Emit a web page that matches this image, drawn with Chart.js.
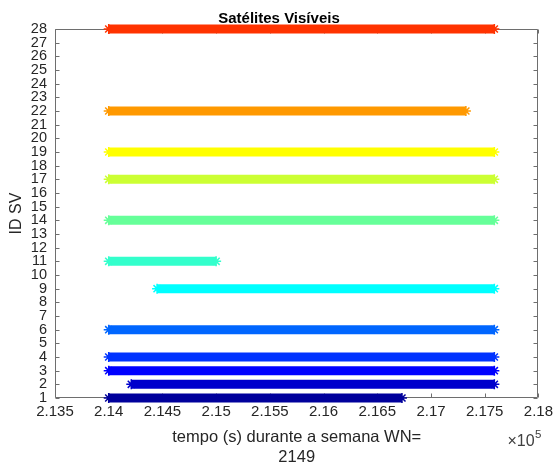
<!DOCTYPE html>
<html>
<head>
<meta charset="utf-8">
<script src="https://cdn.jsdelivr.net/npm/chart.js@4.4.1/dist/chart.umd.min.js"></script>
<style>
  html, body { margin: 0; padding: 0; background: #ffffff; }
  #wrap { width: 558px; height: 465px; }
</style>
</head>
<body>
<div id="wrap"><canvas id="c" width="558" height="465"></canvas></div>
<script>
// Visible satellites: PRN id and first/last epoch seen (seconds of GPS week)
const svIds  = [1, 2, 3, 4, 6, 9, 11, 14, 17, 19, 22, 28];
const tStart = [214000, 214210, 214000, 214000, 214000, 214450, 214000, 214000, 214000, 214000, 214000, 214000];
const tEnd   = [216730, 217590, 217590, 217590, 217590, 217590, 215000, 217590, 217590, 217590, 217325, 217590];
const svColors = ['#00009c', '#0000cc', '#0000ff', '#0033ff', '#0066ff', '#00ffff',
                  '#33ffcc', '#66ff99', '#ccff33', '#ffff00', '#ff9900', '#ff3300'];

const xMin = 213500, xMax = 218000, xStep = 500;
const yMin = 1, yMax = 28;
const weekNumber = 2149;

const FONT = '"Liberation Sans", Arial, Helvetica, sans-serif';
const AXIS_GRAY = '#262626';

const datasets = svIds.map((id, i) => ({
  label: 'SV ' + id,
  data: [{ x: tStart[i], y: id }, { x: tEnd[i], y: id }],
  showLine: true,
  borderColor: svColors[i],
  backgroundColor: svColors[i],
  borderWidth: 9,
  borderCapStyle: 'butt',
  pointStyle: 'star',
  pointRadius: 5,
  pointBorderWidth: 1.5,
  pointBorderColor: svColors[i],
  pointHoverRadius: 5,
  clip: false
}));

// MATLAB-style box with inward tick marks on all four sides
const boxPlugin = {
  id: 'boxTicks',
  beforeDatasetsDraw(chart) {
    const { ctx, chartArea: a, scales } = chart;
    const L = Math.round(a.left) + 0.5, R = Math.round(a.right) - 0.5;
    const T = Math.round(a.top) + 0.5, B = Math.round(a.bottom) - 0.5;
    const len = 4;
    ctx.save();
    ctx.strokeStyle = '#6e6e6e';
    ctx.lineWidth = 1;
    ctx.beginPath();
    ctx.rect(L, T, R - L, B - T);
    scales.x.ticks.forEach(t => {
      const px = Math.round(scales.x.getPixelForValue(t.value)) + 0.5;
      ctx.moveTo(px, B); ctx.lineTo(px, B - len);
      ctx.moveTo(px, T); ctx.lineTo(px, T + len);
    });
    scales.y.ticks.forEach(t => {
      const py = Math.round(scales.y.getPixelForValue(t.value)) + 0.5;
      ctx.moveTo(L, py); ctx.lineTo(L + len, py);
      ctx.moveTo(R, py); ctx.lineTo(R - len, py);
    });
    ctx.stroke();
    ctx.restore();
  },
  afterDraw(chart) {
    // x10^5 exponent label below the right end of the x axis
    const { ctx, chartArea: a } = chart;
    ctx.save();
    ctx.fillStyle = '#404040';
    ctx.textBaseline = 'alphabetic';
    ctx.textAlign = 'left';
    ctx.font = '16px ' + FONT;
    const bx = a.right - 31, by = a.bottom + 48;
    ctx.fillText('\u00d710', bx, by);
    const w = ctx.measureText('\u00d710').width;
    ctx.font = '11.5px ' + FONT;
    ctx.fillText('5', bx + w + 0.5, by - 8);
    ctx.restore();
  }
};

const fmtTick = v => {
  let s = (v / 1e5).toFixed(3);
  s = s.replace(/0+$/, '').replace(/\.$/, '');
  return s;
};

new Chart(document.getElementById('c'), {
  type: 'scatter',
  data: { datasets },
  plugins: [boxPlugin],
  options: {
    responsive: false,
    animation: false,
    devicePixelRatio: 1,
    events: [],
    layout: { padding: 0 },
    plugins: {
      legend: { display: false },
      tooltip: { enabled: false },
      title: {
        display: true,
        text: 'Satélites Visíveis',
        color: '#000000',
        font: { family: FONT, size: 15, weight: 'bold', lineHeight: 1.2 },
        padding: { top: 10, bottom: 1 }
      }
    },
    scales: {
      x: {
        type: 'linear',
        min: xMin, max: xMax,
        grid: { display: false, drawTicks: false },
        border: { display: false },
        ticks: {
          stepSize: xStep,
          autoSkip: false,
          maxRotation: 0,
          padding: 5,
          color: AXIS_GRAY,
          font: { family: FONT, size: 15 },
          callback: v => fmtTick(v)
        },
        title: {
          display: true,
          text: ['tempo (s) durante a semana WN=', String(weekNumber)],
          color: AXIS_GRAY,
          font: { family: FONT, size: 16.5, lineHeight: 1.22 },
          padding: { top: 11, bottom: -3 }
        },
        afterFit(scale) { scale.height = 67; }
      },
      y: {
        type: 'linear',
        min: yMin, max: yMax,
        grid: { display: false, drawTicks: false },
        border: { display: false },
        ticks: {
          stepSize: 1,
          autoSkip: false,
          padding: 8,
          color: AXIS_GRAY,
          font: { family: FONT, size: 14.5 }
        },
        title: {
          display: true,
          text: 'ID SV',
          color: AXIS_GRAY,
          font: { family: FONT, size: 16, lineHeight: 1.2 },
          padding: { top: 7, bottom: 0 }
        },
        afterFit(scale) { scale.width = 55; }
      },
      // empty right-hand strip that keeps the plot box off the edge
      yRight: {
        type: 'linear',
        position: 'right',
        min: yMin, max: yMax,
        display: true,
        grid: { display: false, drawTicks: false },
        border: { display: false },
        ticks: { display: false },
        afterFit(scale) { scale.width = 16; }
      }
    }
  }
});
</script>
</body>
</html>
